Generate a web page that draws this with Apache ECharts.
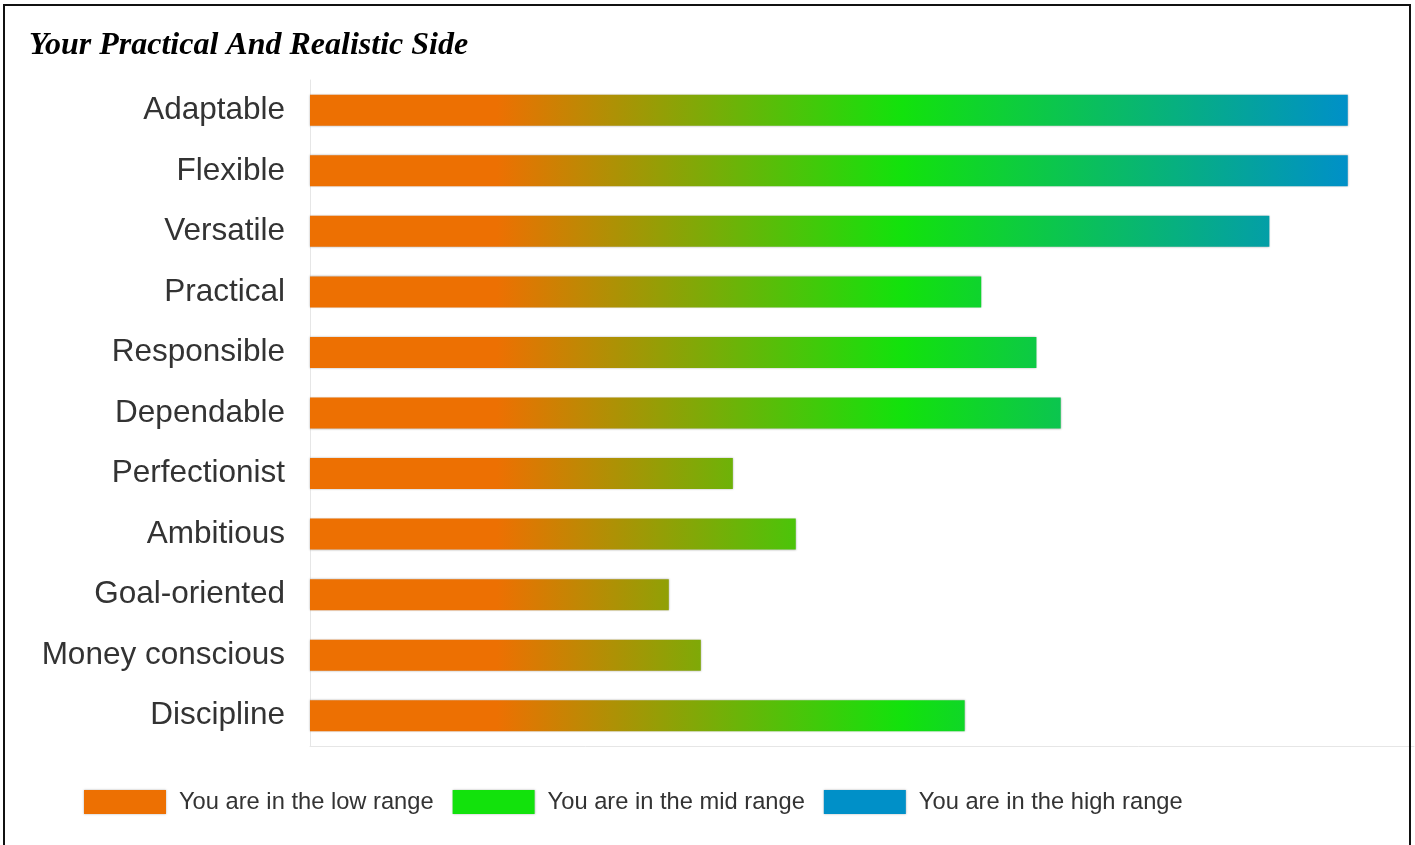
<!DOCTYPE html>
<html>
<head>
<meta charset="utf-8">
<script src="https://cdn.jsdelivr.net/npm/echarts@6/dist/echarts.min.js"></script>
<style>
  html, body { margin: 0; padding: 0; background: #fff; }
  #chart { width: 1415px; height: 845px; }
</style>
</head>
<body>
<div id="chart"></div>
<script>
const titleText = 'Your Practical And Realistic Side';
const categories = ['Adaptable', 'Flexible', 'Versatile', 'Practical', 'Responsible', 'Dependable',
  'Perfectionist', 'Ambitious', 'Goal-oriented', 'Money conscious', 'Discipline'];
const scores = [94.0, 94.0, 86.9, 60.8, 65.8, 68.0, 38.3, 44.0, 32.5, 35.4, 59.3];
const legendNames = ['You are in the low range', 'You are in the mid range', 'You are in the high range'];
const legendColors = ['#ed7002', '#12e20c', '#0090c8'];

const chart = echarts.init(document.getElementById('chart'), null, { renderer: 'canvas' });

const gradient = {
  type: 'linear', global: true,
  x: 310, y: 0, x2: 1348, y2: 0,
  colorStops: [
    { offset: 0, color: '#ed7002' },
    { offset: 0.18, color: '#ed7002' },
    { offset: 0.57, color: '#12e20c' },
    { offset: 1, color: '#0090c8' }
  ]
};

const series = [{
  type: 'bar',
  name: 'score',
  data: scores,
  barWidth: 31,
  stack: 'total',
  itemStyle: {
    color: gradient,
    shadowColor: 'rgba(0,0,0,0.3)',
    shadowBlur: 2
  },
  silent: true
}];
legendNames.forEach(function (n, i) {
  series.push({
    type: 'bar', name: n, data: [], stack: 'total', barWidth: 31,
    itemStyle: { color: legendColors[i] }
  });
});

chart.setOption({
  animation: false,
  backgroundColor: '#fff',
  title: {
    text: titleText,
    left: 29, top: 30, padding: 0,
    textStyle: {
      fontFamily: 'Liberation Serif', fontStyle: 'italic', fontWeight: 'bold',
      fontSize: 32, color: '#000'
    }
  },
  legend: {
    data: legendNames,
    left: 84, top: 790, padding: 0,
    itemWidth: 82, itemHeight: 24, itemGap: 19,
    icon: 'rect',
    selectedMode: false,
    itemStyle: { shadowColor: 'rgba(0,0,0,0.3)', shadowBlur: 2 },
    textStyle: { fontFamily: 'Liberation Sans', fontSize: 23.7, color: '#333', padding: [0, 0, 0, 8] }
  },
  grid: { left: 310, right: 1, top: 80, height: 666, containLabel: false },
  xAxis: {
    type: 'value', min: 0, max: 100,
    axisLine: { show: true, lineStyle: { color: '#e6e6e6', width: 1 } },
    axisTick: { show: false }, axisLabel: { show: false }, splitLine: { show: false }
  },
  yAxis: {
    type: 'category', data: categories, inverse: true,
    axisLine: { show: true, lineStyle: { color: '#e6e6e6', width: 1 } },
    axisTick: { show: false },
    axisLabel: { margin: 25, fontFamily: 'Liberation Sans', fontSize: 31.5, color: '#333' }
  },
  graphic: [{
    type: 'rect', silent: true, z: 100,
    shape: { x: 4, y: 5, width: 1406, height: 900 },
    style: { fill: 'none', stroke: '#111', lineWidth: 2 }
  }],
  series: series
});
</script>
</body>
</html>
